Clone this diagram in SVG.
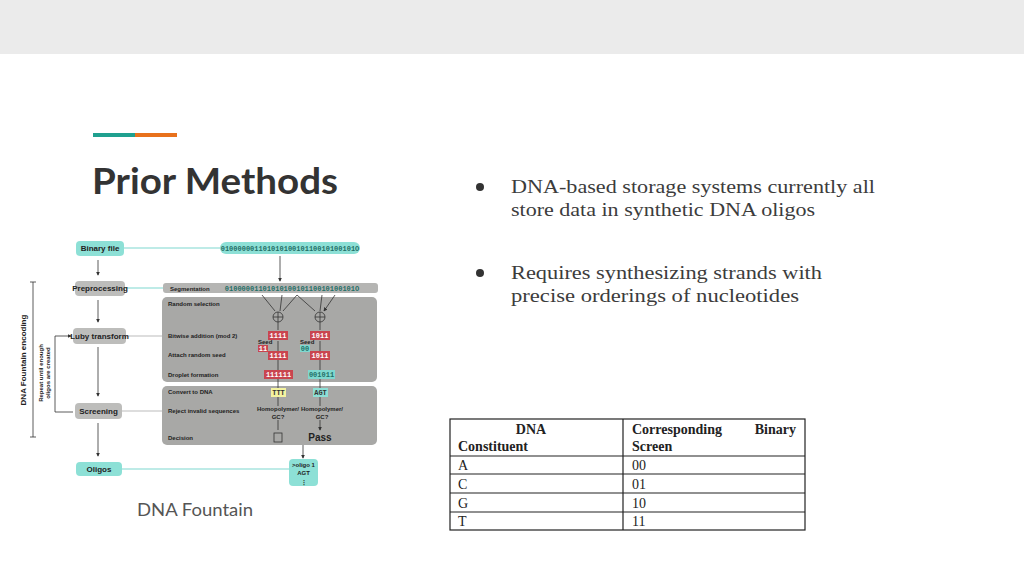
<svg xmlns="http://www.w3.org/2000/svg" width="1024" height="576" viewBox="0 0 1024 576">
<defs>
<style>
.lbl{font-family:"Liberation Sans",Arial,sans-serif;font-weight:bold;font-size:6px;fill:#222}
.node{font-family:"Liberation Sans",Arial,sans-serif;font-weight:bold;font-size:8px;fill:#222;text-anchor:middle}
.bit{font-family:"Liberation Mono",monospace;font-weight:bold;font-size:7px;text-anchor:middle}
.body{font-family:"Liberation Serif","DejaVu Serif",serif;font-size:19px;fill:#3c3c3c}
.th{font-family:"Liberation Serif",serif;font-weight:bold;font-size:14px;fill:#222}
.td{font-family:"Liberation Serif",serif;font-size:14px;fill:#222}
.ln{stroke:#333;stroke-width:0.8;fill:none}
.tl{stroke:#7fd8cf;stroke-width:1.2}
</style>
<marker id="a" viewBox="0 0 6 6" refX="5" refY="3" markerWidth="5" markerHeight="5" orient="auto"><path d="M0,0L6,3L0,6z" fill="#333"/></marker>
</defs>
<rect width="1024" height="576" fill="#fff"/>
<rect width="1024" height="54" fill="#ebebeb"/>
<rect x="93" y="133" width="42" height="4" fill="#1fa08f"/>
<rect x="135" y="133" width="42" height="4" fill="#e8711c"/>
<text x="92" y="194" font-family="Lato,'Open Sans',sans-serif" font-weight="bold" font-size="36" fill="#333" textLength="246" lengthAdjust="spacingAndGlyphs">Prior Methods</text>
<circle cx="480" cy="187" r="4" fill="#333"/>
<text class="body" x="511" y="193" textLength="364" lengthAdjust="spacingAndGlyphs">DNA-based storage systems currently all</text>
<text class="body" x="511" y="216" textLength="304" lengthAdjust="spacingAndGlyphs">store data in synthetic DNA oligos</text>
<circle cx="480" cy="273" r="4" fill="#333"/>
<text class="body" x="511" y="279" textLength="311" lengthAdjust="spacingAndGlyphs">Requires synthesizing strands with</text>
<text class="body" x="511" y="302" textLength="288" lengthAdjust="spacingAndGlyphs">precise orderings of nucleotides</text>
<g id="table">
<rect x="450" y="419" width="355" height="111" fill="none" stroke="#222" stroke-width="1.2"/>
<path d="M623,419V530M450,456H805M450,474H805M450,493H805M450,512H805" stroke="#222" stroke-width="1.2"/>
<text class="th" x="531" y="434" text-anchor="middle">DNA</text>
<text class="th" x="458" y="451">Constituent</text>
<text class="th" x="632" y="434">Corresponding</text>
<text class="th" x="796" y="434" text-anchor="end">Binary</text>
<text class="th" x="632" y="451">Screen</text>
<text class="td" x="458" y="470">A</text><text class="td" x="632" y="470">00</text>
<text class="td" x="458" y="489">C</text><text class="td" x="632" y="489">01</text>
<text class="td" x="458" y="508">G</text><text class="td" x="632" y="508">10</text>
<text class="td" x="458" y="526">T</text><text class="td" x="632" y="526">11</text>
</g>
<text x="137" y="516" font-family="Lato,'Open Sans',sans-serif" font-size="17" fill="#555" textLength="116" lengthAdjust="spacingAndGlyphs">DNA Fountain</text>
<g id="figure">
<rect x="162" y="297" width="215" height="85" rx="5" fill="#a8a8a6"/>
<rect x="162" y="386" width="215" height="59" rx="5" fill="#a8a8a6"/>
<rect x="163" y="283" width="215" height="10" rx="3" fill="#b5b5b3"/>
<rect x="220" y="242" width="140" height="12" rx="6" fill="#8de0d6"/>
<g id="connectors">
<line class="tl" x1="124" y1="248" x2="220" y2="248"/>
<line class="tl" x1="125" y1="288" x2="163" y2="288" stroke="#bbb"/>
<line x1="126" y1="336" x2="162" y2="336" stroke="#bbb" stroke-width="1"/>
<line x1="122" y1="411" x2="162" y2="411" stroke="#bbb" stroke-width="1"/>
<line class="tl" x1="122" y1="469" x2="289" y2="469"/>
<path class="ln" marker-end="url(#a)" d="M98,260V275"/>
<path class="ln" marker-end="url(#a)" d="M98,300V322"/>
<path class="ln" marker-end="url(#a)" d="M98,347V396"/>
<path class="ln" marker-end="url(#a)" d="M98,423V456"/>
<path class="ln" marker-end="url(#a)" d="M280,256V281"/>
<path class="ln" marker-end="url(#a)" d="M303,445V458"/>
<path class="ln" d="M33,282V437M30,282H36M30,437H36"/>
<path class="ln" marker-end="url(#a)" d="M73,412H55V336H71"/>
<path class="ln" marker-end="url(#a)" d="M262,295L275,311M282,295L280,311M297,295L283,311M297,295L315,311M322,295L320,311M335,295L324,311"/>
<path class="ln" marker-end="url(#a)" d="M278,322V330M320,322V330M278,341V351M320,341V351M278,360V370M320,360V370M278,379V388M320,379V388M278,397V406M320,397V406M278,420V430M320,420V430"/>
</g>
<g id="n-binary"><rect x="76" y="241" width="48" height="15" rx="4" fill="#8de0d6"/><text class="node" x="100" y="251">Binary file</text></g>
<g id="n-pre"><rect x="75" y="281" width="50" height="15" rx="4" fill="#bdbdbb"/><text class="node" x="100" y="291" font-size="6.8">Preprocessing</text></g>
<g id="n-luby"><rect x="73" y="328" width="53" height="16" rx="4" fill="#bdbdbb"/><text class="node" x="99.5" y="339" font-size="6.8">Luby transform</text></g>
<g id="n-screen"><rect x="75" y="403" width="47" height="16" rx="4" fill="#bdbdbb"/><text class="node" x="98.5" y="414">Screening</text></g>
<g id="n-oligos"><rect x="76" y="462" width="46" height="14" rx="4" fill="#8de0d6"/><text class="node" x="99" y="472">Oligos</text></g>
<g id="n-oligo1"><rect x="289" y="459" width="29" height="27" rx="4" fill="#8de0d6"/><text class="lbl" x="303.5" y="467" text-anchor="middle" font-size="5">&gt;oligo 1</text><text class="lbl" x="303.5" y="475" text-anchor="middle" font-size="5">AGT</text><text class="lbl" x="303.5" y="484" text-anchor="middle">⋮</text></g>
<text class="bit" x="290" y="251" fill="#1f6f66">01000000110101010010110010100101O</text>
<text class="lbl" x="170" y="291">Segmentation</text>
<text class="bit" x="292" y="291" fill="#1f6f66">0100000110101010010110010100101O</text>
<text class="lbl" x="168" y="306">Random selection</text>
<text class="lbl" x="168" y="338">Bitwise addition (mod 2)</text>
<text class="lbl" x="168" y="357">Attach random seed</text>
<text class="lbl" x="168" y="377">Droplet formation</text>
<text class="lbl" x="168" y="394">Convert to DNA</text>
<text class="lbl" x="168" y="413">Reject invalid sequences</text>
<text class="lbl" x="168" y="440">Decision</text>
<circle cx="278" cy="317" r="5" fill="none" stroke="#333" stroke-width="0.8"/><path class="ln" d="M273,317H283M278,312V322"/>
<circle cx="320" cy="317" r="5" fill="none" stroke="#333" stroke-width="0.8"/><path class="ln" d="M315,317H325M320,312V322"/>
<rect x="268" y="331" width="20" height="9" fill="#c9454f"/><text class="bit" x="278" y="338" fill="#fff">1111</text>
<rect x="310" y="331" width="20" height="9" fill="#c9454f"/><text class="bit" x="320" y="338" fill="#fff">1011</text>
<text class="lbl" x="258" y="344" font-size="4">Seed</text><rect x="258" y="345" width="10" height="7" fill="#c9454f"/><text class="bit" x="263" y="351" fill="#fff" font-size="6">11</text>
<text class="lbl" x="300" y="344" font-size="4">Seed</text><rect x="300" y="345" width="10" height="7" fill="#7fd8cf"/><text class="bit" x="305" y="351" fill="#1f6f66" font-size="6">00</text>
<rect x="268" y="351" width="20" height="9" fill="#c9454f"/><text class="bit" x="278" y="358" fill="#fff">1111</text>
<rect x="310" y="351" width="20" height="9" fill="#c9454f"/><text class="bit" x="320" y="358" fill="#fff">1011</text>
<rect x="264" y="370" width="29" height="9" fill="#c9454f"/><text class="bit" x="278.5" y="377" fill="#fff">111111</text>
<rect x="308" y="370" width="27" height="9" fill="#7fd8cf"/><text class="bit" x="321.5" y="377" fill="#1f6f66">001011</text>
<rect x="271" y="388" width="15" height="9" fill="#f4f3a0"/><text class="bit" x="278.5" y="395" fill="#333">TTT</text>
<rect x="313" y="388" width="15" height="9" fill="#8de0d6"/><text class="bit" x="320.5" y="395" fill="#333">AGT</text>
<text class="lbl" x="278" y="411" text-anchor="middle" font-size="5">Homopolymer/</text><text class="lbl" x="278" y="419" text-anchor="middle" font-size="5">GC?</text>
<text class="lbl" x="322" y="411" text-anchor="middle" font-size="5">Homopolymer/</text><text class="lbl" x="322" y="419" text-anchor="middle" font-size="5">GC?</text>
<rect x="274" y="433" width="8" height="9" fill="none" stroke="#333" stroke-width="0.8"/>
<text x="320" y="441" font-family="Liberation Sans,sans-serif" font-weight="bold" font-size="10" fill="#222" text-anchor="middle">Pass</text>
<text x="26" y="360" transform="rotate(-90 26 360)" font-family="Liberation Sans,sans-serif" font-weight="bold" font-size="8" fill="#222" text-anchor="middle">DNA Fountain encoding</text>
<text x="43" y="373" transform="rotate(-90 43 373)" class="lbl" text-anchor="middle">Repeat until enough</text>
<text x="50" y="373" transform="rotate(-90 50 373)" class="lbl" text-anchor="middle">oligos are created</text>
</g>
</svg>
